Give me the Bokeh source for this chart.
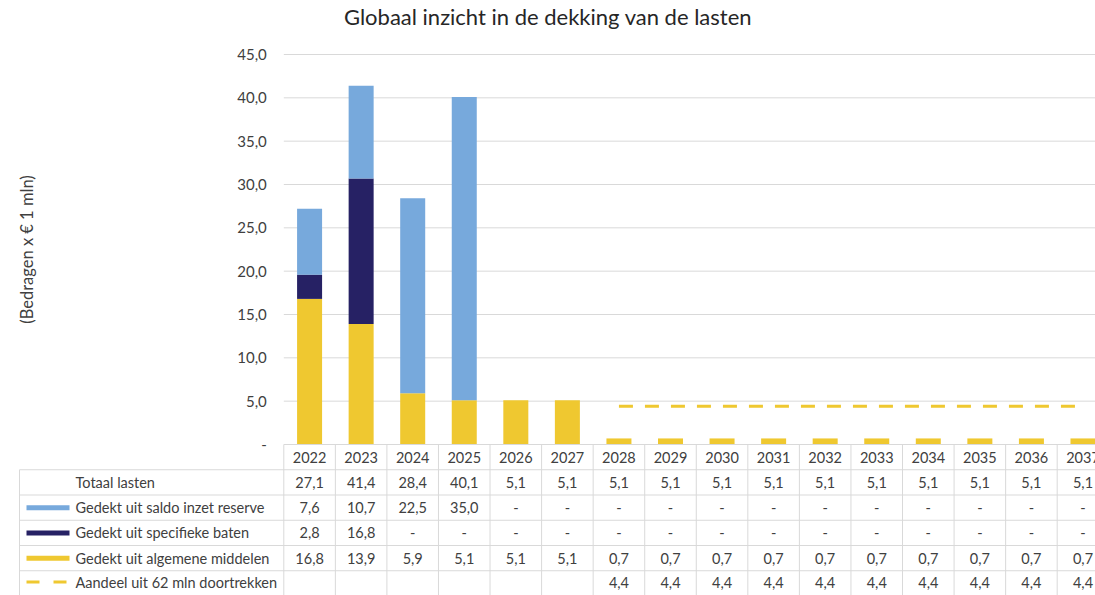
from bokeh.plotting import figure
from bokeh.models import Range1d, FixedTicker, LinearAxis, ColumnDataSource
from bokeh.embed import file_html
from bokeh.resources import INLINE
from bokeh.core.properties import value

# ---------------- data ----------------
years = ["2022", "2023", "2024", "2025", "2026", "2027", "2028", "2029",
         "2030", "2031", "2032", "2033", "2034", "2035", "2036", "2037"]
totaal_lasten = [27.1, 41.4, 28.4, 40.1, 5.1, 5.1, 5.1, 5.1,
                 5.1, 5.1, 5.1, 5.1, 5.1, 5.1, 5.1, 5.1]
saldo_reserve = [7.6, 10.7, 22.5, 35.0, 0, 0, 0, 0,
                 0, 0, 0, 0, 0, 0, 0, 0]
specifieke_baten = [2.8, 16.8, 0, 0, 0, 0, 0, 0,
                    0, 0, 0, 0, 0, 0, 0, 0]
algemene_middelen = [16.8, 13.9, 5.9, 5.1, 5.1, 5.1, 0.7, 0.7,
                     0.7, 0.7, 0.7, 0.7, 0.7, 0.7, 0.7, 0.7]
aandeel_62mln = [None, None, None, None, None, None, 4.4, 4.4,
                 4.4, 4.4, 4.4, 4.4, 4.4, 4.4, 4.4, 4.4]
row_labels = ["Totaal lasten", "Gedekt uit saldo inzet reserve",
              "Gedekt uit specifieke baten", "Gedekt uit algemene middelen",
              "Aandeel uit 62 mln doortrekken"]
y_ticks = [0, 5, 10, 15, 20, 25, 30, 35, 40, 45]
title_text = "Globaal inzicht in de dekking van de lasten"
y_label = "(Bedragen x \u20ac 1 mln)"

# ---------------- styles / layout constants ----------------
BLUE = "#77a9dc"
NAVY = "#262164"
YELLOW = "#efc830"
GRID = "#d9d9d9"
TXT = "#404040"
FONT = "Lato"

W, H = 1095, 595
CW = 51.56                 # px per category
PLOT_LEFT = 283.3          # x of chart frame left edge
PLOT_TOP, PLOT_BOTTOM = 54, 444
ROW_H = 25.25
K = (PLOT_BOTTOM - PLOT_TOP) / 45.0   # px per unit

n = len(years)
xs = list(range(n))
x0 = -0.5 - PLOT_LEFT / CW
x1 = x0 + W / CW
y0 = -(H - PLOT_BOTTOM) / K
y1 = 45 + PLOT_TOP / K
t0 = (H - PLOT_BOTTOM) / ROW_H
t1 = -PLOT_BOTTOM / ROW_H


def px2x(px):
    return x0 + px / CW


def px2y(py):
    return (PLOT_BOTTOM - py) / K


def fmt(v, dash=True):
    if v is None:
        return ""
    if v == 0:
        return "-" if dash else ""
    return f"{v:.1f}".replace(".", ",")


p = figure(width=W, height=H, output_backend="svg", toolbar_location=None,
           x_range=Range1d(x0, x1), y_range=Range1d(y0, y1),
           x_axis_location=None, y_axis_location=None, min_border=0)
p.extra_y_ranges = {"tbl": Range1d(t0, t1)}
p.outline_line_color = None
p.xgrid.visible = False
p.ygrid.visible = False

# ---------------- chart ----------------
p.segment(x0=[-0.5] * (len(y_ticks) - 1), y0=y_ticks[1:], x1=[x1] * (len(y_ticks) - 1),
          y1=y_ticks[1:], line_color=GRID, line_width=1)

src = ColumnDataSource(dict(
    x=xs, algemeen=algemene_middelen, specifiek=specifieke_baten,
    saldo=saldo_reserve,
    aandeel=[float("nan") if v is None else v for v in aandeel_62mln],
))
p.vbar_stack(["algemeen", "specifiek", "saldo"], x="x", width=0.485,
             color=[YELLOW, NAVY, BLUE], line_color=None, source=src)
p.line("x", "aandeel", source=src, line_color=YELLOW, line_width=3,
       line_dash="14 12")

ax = LinearAxis(fixed_location=-0.5, bounds=(0, 45))
ax.ticker = FixedTicker(ticks=y_ticks)
ax.major_label_overrides = {t: ("-" if t == 0 else fmt(float(t))) for t in y_ticks}
ax.axis_line_color = None
ax.major_tick_line_color = None
ax.minor_tick_line_color = None
ax.major_tick_out = 0
ax.major_tick_in = 0
ax.major_label_standoff = 17
ax.major_label_text_font = FONT
ax.major_label_text_font_size = "15px"
ax.major_label_text_color = TXT
ax.axis_label = y_label
ax.axis_label_text_font = FONT
ax.axis_label_text_font_style = "normal"
ax.axis_label_text_font_size = "16.5px"
ax.axis_label_text_color = TXT
ax.axis_label_standoff = 197
p.add_layout(ax, "left")

p.text(x=[px2x(547.5)], y=[px2y(16)], text=[title_text],
       text_font=value(FONT), text_font_size="22px", text_color="#262626",
       text_align="center", text_baseline="middle")

# ---------------- table ----------------
lab_left = px2x(19)
bottom = t0
p.segment(x0=[-0.5], y0=[0], x1=[x1], y1=[0], line_color=GRID, line_width=1,
          y_range_name="tbl")
p.segment(x0=[lab_left] * 5, y0=[1, 2, 3, 4, 5], x1=[x1] * 5, y1=[1, 2, 3, 4, 5],
          line_color=GRID, line_width=1, y_range_name="tbl")
vx = [i - 0.5 for i in range(n + 1)]
p.segment(x0=vx, y0=[0] * len(vx), x1=vx, y1=[bottom] * len(vx),
          line_color=GRID, line_width=1, y_range_name="tbl")
p.segment(x0=[lab_left], y0=[1], x1=[lab_left], y1=[bottom],
          line_color=GRID, line_width=1, y_range_name="tbl")

tf = dict(text_font=value(FONT), text_font_size="14.5px", text_color=TXT,
          text_align="center", text_baseline="middle", y_range_name="tbl")
p.text(x=xs, y=[0.5] * n, text=years, **tf)

rows = [
    [fmt(v) for v in totaal_lasten],
    [fmt(v) for v in saldo_reserve],
    [fmt(v) for v in specifieke_baten],
    [fmt(v) for v in algemene_middelen],
    [fmt(v, dash=False) for v in aandeel_62mln],
]
row_y = [1.5, 2.5, 3.5, 4.5, 5.45]
for ry, vals in zip(row_y, rows):
    p.text(x=xs, y=[ry] * n, text=vals, **tf)

p.text(x=[px2x(75)] * len(row_labels), y=row_y, text=row_labels,
       text_font=value(FONT), text_font_size="14.5px", text_color=TXT,
       text_align="left", text_baseline="middle", y_range_name="tbl")

p.rect(x=[px2x(47.5)] * 3, y=row_y[1:4], width=43, height=5,
       width_units="screen", height_units="screen",
       fill_color=[BLUE, NAVY, YELLOW], line_color=None, y_range_name="tbl")
p.line(x=[px2x(26), px2x(69)], y=[row_y[4]] * 2, line_color=YELLOW, line_width=3,
       line_dash="13 14", y_range_name="tbl")

open("out.html", "w").write(file_html(p, INLINE))
